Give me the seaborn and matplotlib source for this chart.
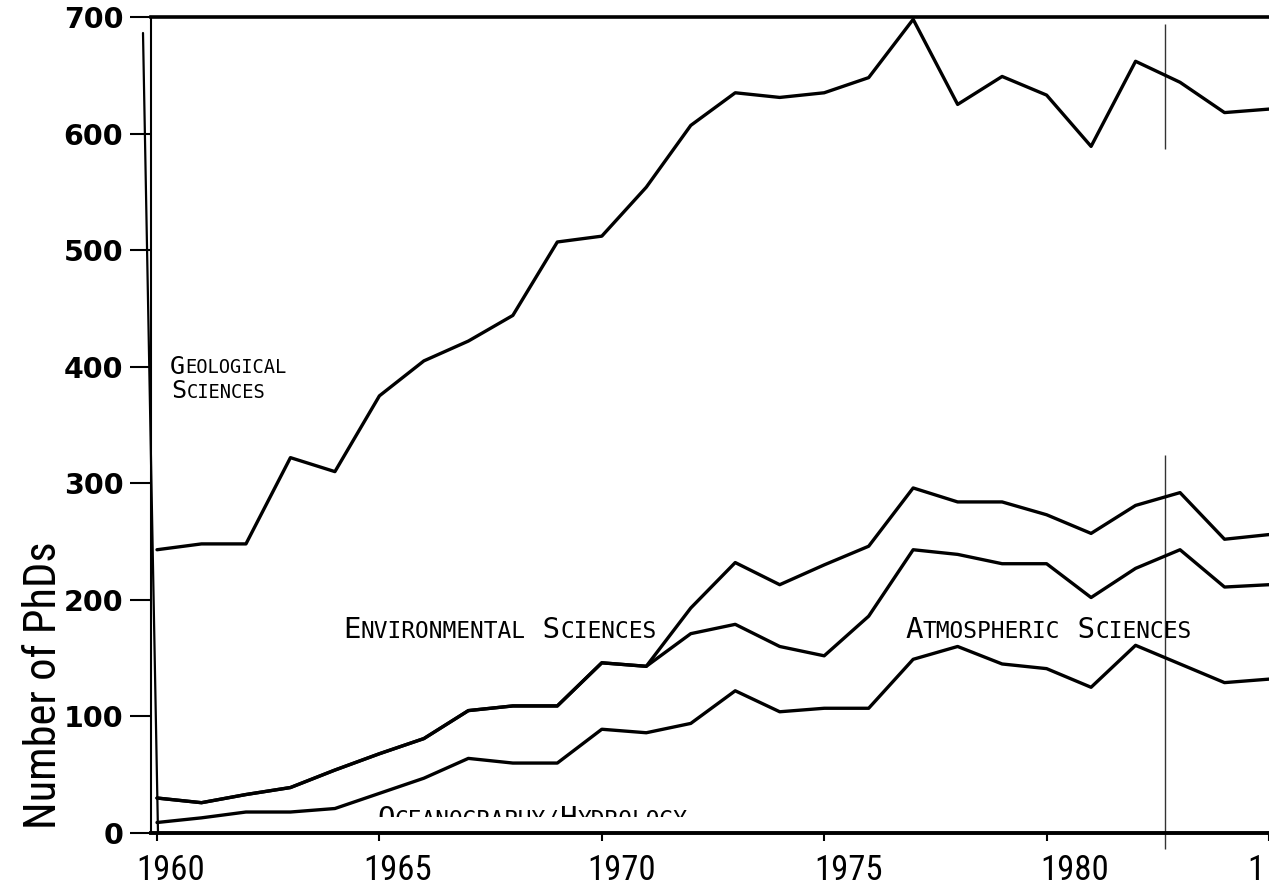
import os
import matplotlib
matplotlib.use("Agg")
import numpy as np
import pandas as pd
import seaborn as sns
import matplotlib.pyplot as plt
from matplotlib import font_manager
from matplotlib.font_manager import FontProperties
from matplotlib.lines import Line2D
from matplotlib.patches import Rectangle
from matplotlib.transforms import ScaledTranslation

# ---------------- data (values of the plotted curves) ----
years = list(range(1960, 1986))
geological = [243, 248, 248, 322, 310, 375, 405, 422, 444, 507, 512, 554, 607,
              635, 631, 635, 648, 698, 625, 649, 633, 589, 662, 644, 618, 621]
environmental_line = [30, 26, 33, 39, 54, 68, 81, 105, 109, 109, 146, 143, 193,
                      232, 213, 230, 246, 296, 284, 284, 273, 257, 281, 292, 252, 256]
atmospheric_line = [30, 26, 33, 39, 54, 68, 81, 105, 109, 109, 146, 143, 171,
                    179, 160, 152, 186, 243, 239, 231, 231, 202, 227, 243, 211, 213]
oceanography_line = [9, 13, 18, 18, 21, 34, 47, 64, 60, 60, 89, 86, 94,
                     122, 104, 107, 107, 149, 160, 145, 141, 125, 161, 145, 129, 132]

xtick_years = [1960, 1965, 1970, 1975, 1980, 1985]
xtick_labels = ["1960", "1965", "1970", "1975", "1980", "1"]   # last one is cut in the scan
ytick_values = [0, 100, 200, 300, 400, 500, 600, 700]
ylabel_text = "Number of PhDs"
label_geo_1 = "Geological"
label_geo_2 = "Sciences"
label_env = "Environmental Sciences"
label_atm = "Atmospheric Sciences"
label_oce = "Oceanography/Hydrology"

# ---------------- fonts ----------------
def pick_condensed():
    best, best_score = None, 99
    pref = ["Liberation Sans Narrow", "Roboto Condensed", "Noto Sans", "DejaVu Sans",
            "Open Sans", "Noto Sans Condensed", "DejaVu Sans Condensed"]
    for f in font_manager.fontManager.ttflist:
        base = os.path.basename(f.fname)
        st = str(f.stretch)
        cond = ("Narrow" in f.name or "Condensed" in f.name or "Narrow" in base
                or "Condensed" in base or st in ("condensed", "semi-condensed",
                                                  "extra-condensed", "ultra-condensed"))
        if not cond:
            continue
        low = base.lower()
        if any(k in low for k in ["bold", "italic", "light", "thin", "black", "medium",
                                  "semi", "extra", "oblique", "mono"]):
            continue
        if f.style != "normal":
            continue
        score = pref.index(f.name) if f.name in pref else 20
        if score < best_score:
            best, best_score = f.fname, score
    return best


cond_path = pick_condensed()
if cond_path:
    cond_fp = lambda size: FontProperties(fname=cond_path, size=size)
else:
    cond_fp = lambda size: FontProperties(family="Roboto", size=size)
mono = "DejaVu Sans Mono"

sns.set_theme(style="white")
plt.rcParams["font.family"] = ["DejaVu Sans"]

W, H = 1269, 888
fig = plt.figure(figsize=(W / 100, H / 100), dpi=100)
left_px, right_px, top_px, bot_px = 151, 1269, 17, 833
ax = fig.add_axes([left_px / W, 1 - bot_px / H, (right_px - left_px) / W, (bot_px - top_px) / H])

for vals in [geological, environmental_line, atmospheric_line, oceanography_line]:
    sns.lineplot(x=years, y=vals, ax=ax, color="black", lw=2.4,
                 estimator=None, sort=False, legend=False, zorder=3)

px_per_year = 44.48
ax.set_xlim(1960 - (157 - left_px) / px_per_year, 1985.0)
ax.set_ylim(0, 700)

# ticks
ax.set_xticks(xtick_years)
ax.set_xticklabels(xtick_labels)
ax.set_yticks(ytick_values)
ax.set_yticklabels([str(v) for v in ytick_values], fontsize=20.5, fontweight="bold")
ax.tick_params(axis="y", left=True, length=15, width=1.5, pad=5, direction="out", colors="black")
ax.tick_params(axis="x", bottom=True, length=6, width=1.5, pad=9, direction="out", colors="black")
label_shift_px = [14, 18, 20, 24, 28, -13]
for lbl, dx in zip(ax.get_xticklabels(), label_shift_px):
    lbl.set_fontproperties(cond_fp(25))
    lbl.set_transform(lbl.get_transform() + ScaledTranslation(dx / 100, 0, fig.dpi_scale_trans))

for s in ["left", "top", "bottom"]:
    ax.spines[s].set_visible(True)
    ax.spines[s].set_color("black")
ax.spines["right"].set_visible(False)
ax.spines["left"].set_linewidth(1.5)
ax.spines["top"].set_linewidth(2.6)
ax.spines["bottom"].set_linewidth(2.8)
ax.grid(False)

ax.set_ylabel(ylabel_text, fontproperties=cond_fp(32), color="black")
ax.yaxis.set_label_coords(-0.077, 0.181)
ax.set_xlabel("")

# scan artefacts: double y-axis stroke and thin vertical line
fig.add_artist(Line2D([143 / W, 158 / W], [1 - 33 / H, 1 - 833 / H], color="black", lw=1.6))
ax.vlines(1982.66, 587, 694, color="#333333", lw=1.0)
ax.vlines(1982.66, -14, 324, color="#333333", lw=1.0, clip_on=False)


# ---------------- small-caps lettering ----------------
def smallcaps(ax, x, y, text, big, small, clip=None):
    runs = []
    pending = ""
    for ch in text:
        if ch == " ":
            pending += ch
            continue
        is_big = ch.isupper()
        if runs and runs[-1][0] == is_big and pending == "":
            runs[-1][1] += ch
        else:
            runs.append([is_big, pending + ch])
        pending = ""
    d = 0.236
    prev = None
    prev_size = None
    for is_big, s in runs:
        size = big if is_big else small
        if prev is None:
            t = ax.text(x, y, s.upper(), fontsize=size, fontfamily=mono,
                        va="baseline", ha="left", color="black", zorder=2,
                        clip_on=clip is not None)
        else:
            t = ax.annotate(s.upper(), xy=(1, 0), xycoords=prev,
                            xytext=(0, d * (prev_size - size)), textcoords="offset points",
                            fontsize=size, fontfamily=mono, va="bottom", ha="left",
                            color="black", zorder=2, annotation_clip=False)
        if clip is not None:
            t.set_clip_on(True)
            t.set_clip_path(clip)
        prev = t
        prev_size = size


smallcaps(ax, 1960.29, 394, label_geo_1, 18, 13.5)
smallcaps(ax, 1960.33, 373, label_geo_2, 18, 13.5)
smallcaps(ax, 1964.18, 167, label_env, 21, 16.5)
smallcaps(ax, 1976.82, 167, label_atm, 21, 16.5)

clip_rect = Rectangle((1959, 14), 30, 100, transform=ax.transData, visible=False)
ax.add_patch(clip_rect)
smallcaps(ax, 1964.95, 5, label_oce, 21, 16.5, clip=clip_rect)

fig.savefig("out.png", dpi=100, facecolor="white")
